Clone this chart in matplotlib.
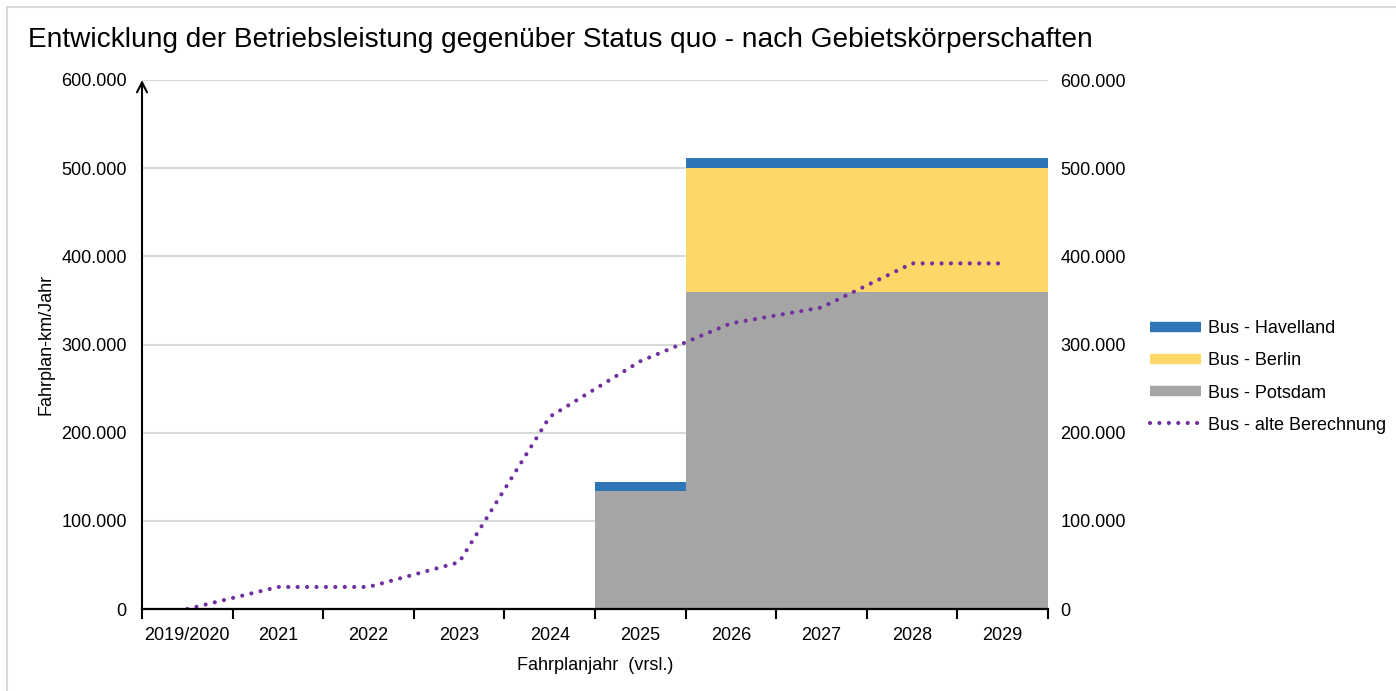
import matplotlib
matplotlib.use("Agg")
import matplotlib.pyplot as plt
from matplotlib.lines import Line2D
from matplotlib.patches import Rectangle
import numpy as np

plt.rcParams['font.family'] = ['Liberation Sans', 'DejaVu Sans']

categories = ["2019/2020", "2021", "2022", "2023", "2024", "2025", "2026", "2027", "2028", "2029"]
potsdam = [0, 0, 0, 0, 0, 134000, 360000, 360000, 360000, 360000]
berlin = [0, 0, 0, 0, 0, 0, 140000, 140000, 140000, 140000]
havelland = [0, 0, 0, 0, 0, 10000, 11000, 11000, 11000, 11000]
alte_berechnung = [0, 25000, 25000, 53000, 218000, 281000, 324000, 342000, 392000, 392000]
yticks = [0, 100000, 200000, 300000, 400000, 500000, 600000]

c_hav = "#2E75B6"
c_ber = "#FDD868"
c_pot = "#A5A5A5"
c_line = "#7030A0"
c_grid = "#D9D9D9"

FS = 13
W, H = 1396, 691
fig = plt.figure(figsize=(W / 100, H / 100), dpi=100)
ax = fig.add_axes([142 / W, 1 - 609 / H, (1048 - 142) / W, (609 - 80) / H])

x = np.arange(len(categories))
pot = np.array(potsdam)
ber = np.array(berlin)
hav = np.array(havelland)
ax.bar(x, pot, width=1.0, color=c_pot, zorder=2)
ax.bar(x, ber, width=1.0, bottom=pot, color=c_ber, zorder=2)
ax.bar(x, hav, width=1.0, bottom=pot + ber, color=c_hav, zorder=2)
dot_style = (0, (0.01, 2.25))
ax.plot(x, alte_berechnung, color=c_line, lw=3.0, linestyle=dot_style,
        dash_capstyle='round', zorder=4)

ax.set_xlim(-0.5, len(categories) - 0.5)
ax.set_ylim(0, 600000)
ax.set_yticks(yticks)
fmt = lambda v: f"{v:,.0f}".replace(",", ".")
ax.set_yticklabels([fmt(v) for v in yticks], fontsize=FS)
ax.yaxis.grid(True, color=c_grid, lw=1.5, zorder=0)
ax.set_axisbelow(True)
ax.tick_params(axis='y', length=0, pad=11)

ax.set_xticks(x)
ax.set_xticklabels(categories, fontsize=FS)
ax.set_xticks(np.arange(-0.5, len(categories), 1.0), minor=True)
ax.tick_params(axis='x', which='major', length=0, pad=13)
ax.tick_params(axis='x', which='minor', length=7, width=1.5, direction='out', color='black')

for s in ['top', 'right', 'left']:
    ax.spines[s].set_visible(False)
ax.spines['bottom'].set_linewidth(1.6)
ax.spines['bottom'].set_color('black')
ax.spines['bottom'].set_zorder(5)

ax.annotate('', xy=(0, 1.0), xytext=(0, 0), xycoords='axes fraction',
            arrowprops=dict(arrowstyle='->', lw=1.5, color='black',
                            shrinkA=0, shrinkB=0, mutation_scale=18), zorder=6)

ax2 = ax.twinx()
ax2.set_ylim(0, 600000)
ax2.set_yticks(yticks)
ax2.set_yticklabels([fmt(v) for v in yticks], fontsize=FS)
ax2.tick_params(axis='y', length=0, pad=9)
for s in ['top', 'right', 'left', 'bottom']:
    ax2.spines[s].set_visible(False)

ax.set_ylabel("Fahrplan-km/Jahr", fontsize=FS, labelpad=5)
ax.set_xlabel("Fahrplanjahr  (vrsl.)", fontsize=FS, labelpad=9)

fig.text(28 / W, 1 - 47 / H, "Entwicklung der Betriebsleistung gegenüber Status quo - nach Gebietskörperschaften",
         fontsize=20.2, ha='left', va='baseline')

handles = [
    Line2D([0], [0], color=c_hav, lw=7.5, solid_capstyle='butt'),
    Line2D([0], [0], color=c_ber, lw=7.5, solid_capstyle='butt'),
    Line2D([0], [0], color=c_pot, lw=7.5, solid_capstyle='butt'),
    Line2D([0], [0], color=c_line, lw=3.0, linestyle=dot_style, dash_capstyle='round'),
]
labels = ["Bus - Havelland", "Bus - Berlin", "Bus - Potsdam", "Bus - alte Berechnung"]
fig.legend(handles, labels, loc='center left', bbox_to_anchor=(1150 / W, 1 - 377 / H),
           frameon=False, fontsize=FS, handlelength=2.8, handletextpad=0.4,
           labelspacing=0.84, borderpad=0, borderaxespad=0)

fig.patches.append(Rectangle((7 / W, -0.1), 1.2, 1.1 - 7 / H, transform=fig.transFigure,
                             fill=False, edgecolor=c_grid, lw=1.5, zorder=0))

fig.savefig("out.png", dpi=100)
